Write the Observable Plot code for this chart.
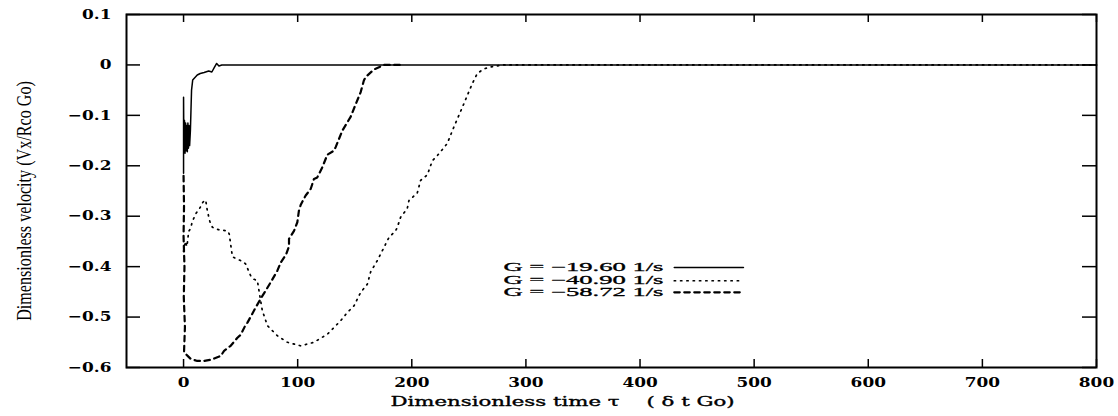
<!DOCTYPE html>
<html><head><meta charset="utf-8">
<script src="https://cdn.jsdelivr.net/npm/d3@7"></script>
<script src="https://cdn.jsdelivr.net/npm/@observablehq/plot@0.6"></script>
<style>body{margin:0;background:#fff} svg{display:block}</style>
</head><body><div id="chart"></div>
<script>
// ---- data ----
const xTicks = [0, 100, 200, 300, 400, 500, 600, 700, 800];
const yTicks = [-0.6, -0.5, -0.4, -0.3, -0.2, -0.1, 0, 0.1];
const seriesLabels = ["G = \u221219.60 1/s", "G = \u221240.90 1/s", "G = \u221258.72 1/s"];

// G = -19.60 1/s (solid)
const g1960 = [[0,-0.215],[0,-0.064],[0.3,-0.17],[0.8,-0.11],[1.3,-0.175],[1.8,-0.115],[2.3,-0.17],[2.8,-0.12],
  [3.3,-0.172],[3.8,-0.115],[4.3,-0.165],[4.8,-0.12],[5.3,-0.16],[6,-0.13],[6.5,-0.09],[7,-0.05],[8,-0.03],
  [10,-0.025],[12,-0.02],[14.6,-0.017],[18,-0.015],[22,-0.012],[24.8,-0.014],[27,-0.005],[29,0.003],[31,-0.002],
  [33.5,0],[800,0]];

// G = -40.90 1/s (dotted)
const g4090 = [[0,-0.37],[1.5,-0.35],[3,-0.36],[4.5,-0.33],[6,-0.325],[7.8,-0.31],[10.7,-0.295],[14,-0.285],
  [17,-0.272],[19.4,-0.268],[20.9,-0.29],[23,-0.31],[25.3,-0.322],[31,-0.327],[38.4,-0.329],[40,-0.335],
  [42.8,-0.38],[44.2,-0.382],[50,-0.388],[53,-0.392],[54.5,-0.395],[57.4,-0.411],[58.8,-0.418],[61.7,-0.425],
  [64.7,-0.428],[67,-0.46],[69,-0.487],[73.5,-0.517],[82.2,-0.537],[91,-0.55],[102.6,-0.557],[114.3,-0.55],
  [126,-0.534],[130.4,-0.524],[137.7,-0.507],[143.5,-0.491],[149.3,-0.478],[155.2,-0.451],[161,-0.435],
  [164,-0.41],[169.8,-0.388],[175.6,-0.362],[180,-0.342],[185.8,-0.329],[187.3,-0.322],[190.2,-0.302],
  [196,-0.285],[197.5,-0.269],[204.8,-0.254],[207.7,-0.229],[213.6,-0.218],[218,-0.19],[222.3,-0.18],
  [231,-0.156],[236.9,-0.123],[245.6,-0.077],[253,-0.037],[257.4,-0.017],[263,-0.008],[269,-0.004],
  [280.7,0],[800,0]];

// G = -58.72 1/s (dashed)
const g5872 = [[0,-0.22],[0.4,-0.28],[0,-0.34],[0.8,-0.40],[0.2,-0.46],[1.2,-0.52],[0.4,-0.57],[4,-0.578],
  [6.3,-0.583],[12,-0.587],[18,-0.587],[25,-0.584],[32.6,-0.577],[35.5,-0.567],[41.3,-0.557],[47.2,-0.541],
  [50.1,-0.535],[54.5,-0.515],[56,-0.511],[63.2,-0.481],[69.1,-0.458],[76.4,-0.431],[82.2,-0.408],
  [85.1,-0.392],[88,-0.382],[89.5,-0.378],[92.4,-0.36],[92.4,-0.345],[96.8,-0.329],[99.7,-0.312],
  [101.1,-0.289],[102.6,-0.278],[105.5,-0.265],[107,-0.259],[111.4,-0.246],[114.3,-0.226],[117.2,-0.223],
  [121.6,-0.203],[123,-0.195],[126,-0.178],[131.8,-0.17],[133.3,-0.163],[139.2,-0.13],[146.4,-0.103],
  [151,-0.077],[155.2,-0.054],[158,-0.031],[159.6,-0.024],[166.8,-0.009],[175.6,0],[190,0]];

// in-plot legend placement (data units)
const legendLabelTau = 420.5;
const legendSampleTau = [430, 490.6];
const legendRowVel = [-0.4015, -0.428, -0.451];

// ---- layout ----
const W = 1118, H = 416, mL = 126, mR = 22, mT = 14, mB = 49;
const innerW = W - mL - mR, innerH = H - mT - mB;
const fmtY = d => d === 0 ? "0" : d.toFixed(1).replace("-", "\u2212");
const styles = [
  {stroke: "#000", strokeWidth: 1.5},
  {stroke: "#000", strokeWidth: 1.7, strokeDasharray: "1.3,5"},
  {stroke: "#000", strokeWidth: 2.2, strokeDasharray: "5.5,4.5"}
];
const seriesData = [g1960, g4090, g5872];

const legendSamples = seriesData.map((_, i) => legendSampleTau.map(t => ({t, v: legendRowVel[i]})));
const legendText = seriesLabels.map((s, i) => ({label: s, v: legendRowVel[i]}));

const marks = [];
seriesData.forEach((arr, i) => {
  marks.push(Plot.line(arr, {x: d => d[0], y: d => d[1], ...styles[i], strokeLinejoin: "round"}));
});
// legend
legendSamples.forEach((arr, i) => {
  marks.push(Plot.line(arr, {x: "t", y: "v", ...styles[i]}));
});
marks.push(Plot.text(legendText, {x: () => legendLabelTau, y: "v", text: "label", textAnchor: "end",
  fontFamily: "Liberation Serif", fontSize: 11.5, fill: "#000", stroke: "#000", strokeWidth: 0.3, className: "legendlab"}));

// inward ticks
marks.push(Plot.tickX(xTicks, {x: d => d, insetTop: innerH - 8, stroke: "#000", strokeWidth: 1.5}));
marks.push(Plot.tickX(xTicks, {x: d => d, insetBottom: innerH - 8, stroke: "#000", strokeWidth: 1.5}));
marks.push(Plot.tickY(yTicks, {y: d => d, insetRight: innerW - 14, stroke: "#000", strokeWidth: 1.5}));
marks.push(Plot.tickY(yTicks, {y: d => d, insetLeft: innerW - 14, stroke: "#000", strokeWidth: 1.5}));

// tick labels
marks.push(Plot.text(xTicks, {x: d => d, text: d => String(d), frameAnchor: "bottom", dy: 10, lineAnchor: "top",
  fontFamily: "DejaVu Serif", fontWeight: "bold", fontSize: 13, fill: "#000", className: "ticklab"}));
marks.push(Plot.text(yTicks, {y: d => d, text: fmtY, frameAnchor: "left", dx: -15, textAnchor: "end",
  fontFamily: "DejaVu Serif", fontWeight: "bold", fontSize: 13, fill: "#000", className: "ticklab"}));

// axis titles
marks.push(Plot.text(["Dimensionless time \u03c4    ( \u03b4 t Go)"], {text: d => d, frameAnchor: "bottom", dx: -49, dy: 38,
  lineAnchor: "bottom", fontFamily: "DejaVu Serif", fontSize: 13, fill: "#000", stroke: "#000", strokeWidth: 0.35,
  className: "xtitle"}));
marks.push(Plot.text(["Dimensionless velocity (Vx/Rco Go)"], {text: d => d, frameAnchor: "left", rotate: -90,
  textAnchor: "middle", lineAnchor: "middle",
  dx: -102, dy: 10, fontFamily: "Liberation Serif", fontSize: 20, fill: "#000", className: "ytitle"}));

marks.push(Plot.frame({stroke: "#000", strokeWidth: 2}));

const chart = Plot.plot({
  width: W, height: H,
  marginLeft: mL, marginRight: mR, marginTop: mT, marginBottom: mB,
  x: {domain: [-50, 800], axis: null},
  y: {domain: [-0.6, 0.1], axis: null},
  style: {background: "#fff", overflow: "visible"},
  marks
});
document.getElementById("chart").appendChild(chart);

// emulate the horizontally stretched lettering of the original
function stretchLen(sel, f) {
  d3.select(chart).selectAll(sel).each(function() {
    const L = this.getComputedTextLength();
    const target = typeof f === "function" ? f(L) : f;
    this.setAttribute("textLength", target);
    this.setAttribute("lengthAdjust", "spacingAndGlyphs");
  });
}
function stretchScale(sel, target) {
  d3.select(chart).selectAll(sel).each(function() {
    const L = this.getComputedTextLength();
    const t = this.getAttribute("transform") || "";
    this.setAttribute("transform", t + ` scale(${target / L},1)`);
  });
}
stretchLen(".ticklab text", L => L * 1.3);
stretchLen(".legendlab text", 160);
stretchLen(".xtitle text", 344);
stretchScale(".ytitle text", 240);
</script>
</body></html>
